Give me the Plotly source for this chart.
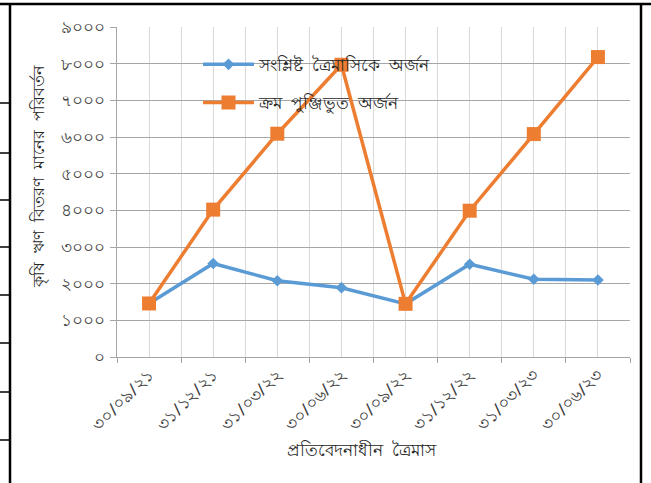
import plotly.graph_objects as go

categories = ["৩০/০৯/২১", "৩১/১২/২১", "৩১/০৩/২২", "৩০/০৬/২২",
              "৩০/০৯/২২", "৩১/১২/২২", "৩১/০৩/২৩", "৩০/০৬/২৩"]
quarterly = [1460, 2550, 2080, 1890, 1450, 2530, 2120, 2100]
cumulative = [1460, 4020, 6090, 7970, 1450, 3990, 6080, 8180]
y_tickvals = [0, 1000, 2000, 3000, 4000, 5000, 6000, 7000, 8000, 9000]
y_ticktext = ["০", "১০০০", "২০০০", "৩০০০", "৪০০০", "৫০০০", "৬০০০", "৭০০০", "৮০০০", "৯০০০"]
series_names = ["সংশ্লিষ্ট  ত্রৈমাসিকে  অর্জন", "ক্রম  পুঞ্জিভুত  অর্জন"]
x_title = "প্রতিবেদনাধীন  ত্রৈমাস"
y_title = "কৃষি  ঋণ  বিতরণ  মানের  পরিবর্তন"

xpos = list(range(len(categories)))
bounds = [i - 0.5 for i in range(len(categories) + 1)]

FONT = "Noto Sans, DejaVu Sans, sans-serif"

fig = go.Figure()
fig.add_trace(go.Scatter(
    x=xpos, y=quarterly, name=series_names[0], mode="lines+markers",
    line=dict(color="#5B9BD5", width=3.5),
    marker=dict(symbol="diamond", size=9, color="#5B9BD5"),
    legendgroup="a"))
fig.add_trace(go.Scatter(
    x=xpos, y=cumulative, name=series_names[1], mode="lines+markers",
    line=dict(color="#ED7D31", width=3.5),
    marker=dict(symbol="square", size=14, color="#ED7D31"),
    legendgroup="b"))

L, R, T, B = 117, 651 - 630, 27, 483 - 357
fig.update_layout(
    width=651, height=483,
    margin=dict(l=L, r=R, t=T, b=B, pad=0),
    paper_bgcolor="white", plot_bgcolor="white",
    font=dict(family=FONT, color="#404040", size=13),
    showlegend=True,
    legend=dict(x=(198 - L) / 513, y=0.94, xanchor="left", yanchor="top",
                bgcolor="rgba(0,0,0,0)", tracegroupgap=13, itemwidth=51,
                font=dict(size=17, color="#262626")),
    xaxis=dict(range=[-0.5, 7.5], tickmode="array", tickvals=xpos,
               ticktext=categories, tickangle=-45, ticks="",
               showgrid=True, gridcolor="#d9d9d9", gridwidth=1,
               showline=True, linecolor="#a6a6a6", linewidth=1,
               zeroline=False, tickfont=dict(size=17, color="#404040"),
               minor=dict(tickmode="array", tickvals=bounds, ticks="outside",
                          ticklen=5, tickcolor="#a6a6a6", showgrid=True,
                          gridcolor="#d9d9d9", gridwidth=1)),
    yaxis=dict(range=[0, 9000], tickmode="array", tickvals=y_tickvals,
               ticktext=y_ticktext, ticks="outside", ticklen=6,
               tickcolor="#a6a6a6", showgrid=True, gridcolor="#a6a6a6",
               gridwidth=1, showline=True, linecolor="#a6a6a6",
               zeroline=False, ticklabelstandoff=2,
               tickfont=dict(size=17, color="#404040")),
)

fig.add_annotation(text=y_title, xref="paper", yref="paper",
                   x=-0.153, y=0.545, xanchor="center", yanchor="middle",
                   textangle=-90, showarrow=False,
                   font=dict(size=16, color="#262626"))
fig.add_annotation(text=x_title, xref="paper", yref="paper",
                   x=0.478, y=-0.28, xanchor="center", yanchor="middle",
                   showarrow=False,
                   font=dict(size=16.5, color="#262626"))

# page frame (document table border)
pw, ph = 651 - L - R, 483 - T - B
def px(xp):
    return (xp - L) / pw
def py(yp):
    return (483 - B - yp) / ph
frame = dict(type="line", xref="paper", yref="paper",
             line=dict(color="black", width=2.5))
fig.add_shape(**frame, x0=px(10), x1=px(10), y0=py(4), y1=py(483))
fig.add_shape(**frame, x0=px(0), x1=px(651), y0=py(4), y1=py(4))
fig.add_shape(**frame, x0=px(641), x1=px(641), y0=py(4), y1=py(483))
for yy in [103, 153, 200, 247, 295, 343, 392, 440]:
    fig.add_shape(type="line", xref="paper", yref="paper",
                  x0=px(0), x1=px(10), y0=py(yy), y1=py(yy),
                  line=dict(color="black", width=1.5))

fig.write_html("out.html",
               config={"displayModeBar": False},
               post_script="document.body.style.margin='0';"
                           "document.body.style.padding='0';"
                           "document.body.style.overflow='hidden';")
